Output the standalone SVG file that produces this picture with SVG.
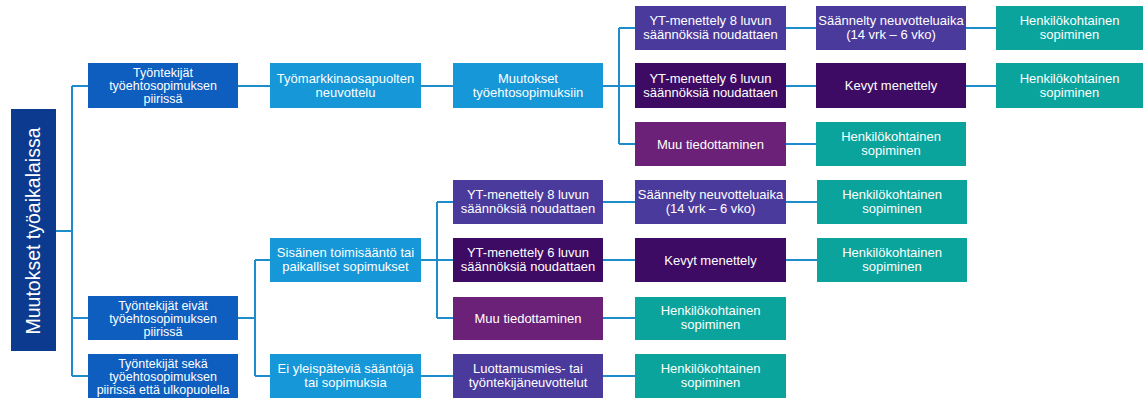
<svg xmlns="http://www.w3.org/2000/svg" width="1148" height="398" viewBox="0 0 1148 398">
<style>
.t{font-family:"Liberation Sans",Arial,sans-serif;font-size:13px;fill:#fff;text-anchor:middle}
.s{font-size:12.5px}
.c{fill:none;stroke:#1e8bcb;stroke-width:2}
.navy{fill:#0b3a8e}.b1{fill:#0d5ebe}.b2{fill:#1597d8}.p1{fill:#4a3a9c}.p2{fill:#3d0b63}.p3{fill:#6a2177}.tl{fill:#0ba49d}
</style>
<rect width="1148" height="398" fill="#fff"/>
<g id="connectors" class="c">
<path d="M56 231H72M72 86V376M72 86H88M72 318H88M72 376H88"/>
<path d="M238 86H270M421 86H453M603 86H635M619 28V144M619 28H635M619 144H635"/>
<path d="M786 28H816M786 86H816M786 144H816M966 28H996M966 86H996"/>
<path d="M238 318H255M255 260V376M255 260H270M255 376H270"/>
<path d="M421 260H453M437 202V318M437 202H453M437 318H453M421 376H453"/>
<path d="M603 202H635M603 260H635M603 318H635M603 376H635M786 202H817M786 260H817"/>
</g>
<g id="root"><rect class="navy" x="11" y="109" width="45" height="242"/><text class="t" style="font-size:19.5px" transform="translate(40 231) rotate(-90)">Muutokset työaikalaissa</text></g>
<g id="n1"><rect class="b1" x="88" y="63" width="150" height="45"/><text class="t s" x="163" y="76.5">Työntekijät</text><text class="t s" x="163" y="89.5">työehtosopimuksen</text><text class="t s" x="163" y="102.5">piirissä</text></g>
<g id="n2"><rect class="b1" x="88" y="296" width="150" height="44"/><text class="t s" x="163" y="309.5">Työntekijät eivät</text><text class="t s" x="163" y="322.5">työehtosopimuksen</text><text class="t s" x="163" y="335.5">piirissä</text></g>
<g id="n3"><rect class="b1" x="88" y="354" width="150" height="44"/><text class="t s" x="163" y="367.5">Työntekijät sekä</text><text class="t s" x="163" y="380.5">työehtosopimuksen</text><text class="t s" x="163" y="393.5">piirissä että ulkopuolella</text></g>
<g id="n4"><rect class="b2" x="270" y="63" width="151" height="45"/><text class="t" x="345.5" y="83">Työmarkkinaosapuolten</text><text class="t" x="345.5" y="97">neuvottelu</text></g>
<g id="n5"><rect class="b2" x="453" y="63" width="150" height="45"/><text class="t" x="528" y="83">Muutokset</text><text class="t" x="528" y="97">työehtosopimuksiin</text></g>
<g id="n6"><rect class="p1" x="635" y="6" width="151" height="44"/><text class="t" x="710.5" y="25">YT-menettely 8 luvun</text><text class="t" x="710.5" y="39">säännöksiä noudattaen</text></g>
<g id="n7"><rect class="p2" x="635" y="63" width="151" height="45"/><text class="t" x="710.5" y="83">YT-menettely 6 luvun</text><text class="t" x="710.5" y="97">säännöksiä noudattaen</text></g>
<g id="n8"><rect class="p3" x="635" y="122" width="151" height="44"/><text class="t" x="710.5" y="148.5">Muu tiedottaminen</text></g>
<g id="n9"><rect class="p1" x="816" y="6" width="150" height="44"/><text class="t" x="891" y="25">Säännelty neuvotteluaika</text><text class="t" x="891" y="39">(14 vrk – 6 vko)</text></g>
<g id="n10"><rect class="p2" x="816" y="63" width="150" height="45"/><text class="t" x="891" y="90">Kevyt menettely</text></g>
<g id="n11"><rect class="tl" x="816" y="122" width="150" height="44"/><text class="t" x="891" y="141">Henkilökohtainen</text><text class="t" x="891" y="155">sopiminen</text></g>
<g id="n12"><rect class="tl" x="996" y="6" width="147" height="44"/><text class="t" x="1069.5" y="25">Henkilökohtainen</text><text class="t" x="1069.5" y="39">sopiminen</text></g>
<g id="n13"><rect class="tl" x="996" y="63" width="147" height="45"/><text class="t" x="1069.5" y="83">Henkilökohtainen</text><text class="t" x="1069.5" y="97">sopiminen</text></g>
<g id="n14"><rect class="b2" x="270" y="238" width="151" height="44"/><text class="t" x="345.5" y="257">Sisäinen toimisääntö tai</text><text class="t" x="345.5" y="271">paikalliset sopimukset</text></g>
<g id="n15"><rect class="b2" x="270" y="354" width="151" height="44"/><text class="t" x="345.5" y="373">Ei yleispäteviä sääntöjä</text><text class="t" x="345.5" y="387">tai sopimuksia</text></g>
<g id="n16"><rect class="p1" x="453" y="180" width="150" height="44"/><text class="t" x="528" y="199">YT-menettely 8 luvun</text><text class="t" x="528" y="213">säännöksiä noudattaen</text></g>
<g id="n17"><rect class="p2" x="453" y="238" width="150" height="44"/><text class="t" x="528" y="257">YT-menettely 6 luvun</text><text class="t" x="528" y="271">säännöksiä noudattaen</text></g>
<g id="n18"><rect class="p3" x="453" y="297" width="150" height="43"/><text class="t" x="528" y="323">Muu tiedottaminen</text></g>
<g id="n19"><rect class="p1" x="453" y="354" width="150" height="44"/><text class="t" x="528" y="373">Luottamusmies- tai</text><text class="t" x="528" y="387">työntekijäneuvottelut</text></g>
<g id="n20"><rect class="p1" x="635" y="180" width="151" height="44"/><text class="t" x="710.5" y="199">Säännelty neuvotteluaika</text><text class="t" x="710.5" y="213">(14 vrk – 6 vko)</text></g>
<g id="n21"><rect class="p2" x="635" y="238" width="151" height="44"/><text class="t" x="710.5" y="264.5">Kevyt menettely</text></g>
<g id="n22"><rect class="tl" x="635" y="297" width="151" height="43"/><text class="t" x="710.5" y="315">Henkilökohtainen</text><text class="t" x="710.5" y="329">sopiminen</text></g>
<g id="n23"><rect class="tl" x="635" y="354" width="151" height="44"/><text class="t" x="710.5" y="373">Henkilökohtainen</text><text class="t" x="710.5" y="387">sopiminen</text></g>
<g id="n24"><rect class="tl" x="817" y="180" width="150" height="44"/><text class="t" x="892" y="199">Henkilökohtainen</text><text class="t" x="892" y="213">sopiminen</text></g>
<g id="n25"><rect class="tl" x="817" y="238" width="150" height="44"/><text class="t" x="892" y="257">Henkilökohtainen</text><text class="t" x="892" y="271">sopiminen</text></g>
</svg>
